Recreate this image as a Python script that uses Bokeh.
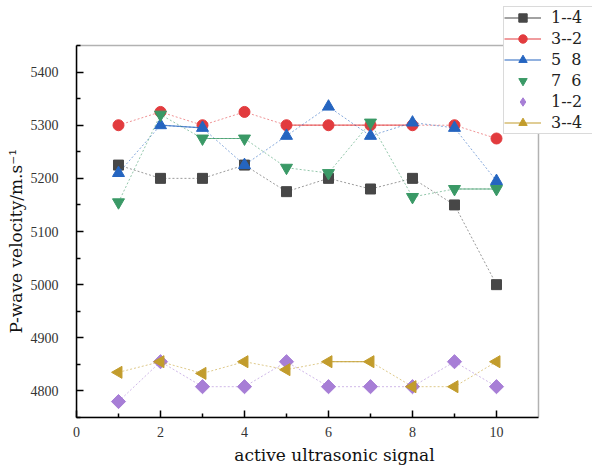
import math
from bokeh.plotting import figure
from bokeh.models import FixedTicker, Legend, LegendItem, ColumnDataSource, Range1d, BoxAnnotation, Title
from bokeh.embed import file_html
from bokeh.resources import INLINE

# ---- data ----
signal = [1, 2, 3, 4, 5, 6, 7, 8, 9, 10]
v_1_4 = [5225, 5200, 5200, 5225, 5175, 5200, 5180, 5200, 5150, 5000]
v_3_2 = [5300, 5325, 5300, 5325, 5300, 5300, 5300, 5300, 5300, 5275]
v_5_8 = [5210, 5300, 5295, 5225, 5280, 5335, 5280, 5305, 5295, 5195]
v_7_6 = [5155, 5320, 5275, 5275, 5220, 5210, 5305, 5165, 5180, 5180]
v_1_2 = [4780, 4855, 4808, 4808, 4855, 4808, 4808, 4808, 4855, 4808]
v_3_4 = [4835, 4855, 4833, 4855, 4840, 4855, 4855, 4808, 4808, 4855]
series_labels = ["1--4", "3--2", "5  8", "7  6", "1--2", "3--4"]
x_ticks = [0, 2, 4, 6, 8, 10]
x_minor = [1, 3, 5, 7, 9]
y_ticks = [4800, 4900, 5000, 5100, 5200, 5300, 5400]
y_minor = [4750, 4850, 4950, 5050, 5150, 5250, 5350, 5450]
x_lim = (0, 11)
y_lim = (4750, 5450)

# ---- styles ----
styles = [
    dict(marker="square", color="#474747", size=10, angle=0.0, solid=[], legend_line=True, legend_marker=None),
    dict(marker="circle", color="#e23b3e", size=11, angle=0.0, solid=[4, 5, 6], legend_line=True, legend_marker=None),
    dict(marker="triangle", color="#2565c0", size=12, angle=0.0, solid=[1], legend_line=True, legend_marker=None),
    dict(marker="inverted_triangle", color="#3a9966", size=12, angle=0.0, solid=[2, 8], legend_line=False, legend_marker=None),
    dict(marker="square", color="#a77ed6", size=10, angle=math.pi / 4, solid=[], legend_line=False, legend_marker="diamond"),
    dict(marker="triangle", color="#c29c2c", size=12, angle=math.pi / 2, solid=[5], legend_line=True, legend_marker=None),
]
values = [v_1_4, v_3_2, v_5_8, v_7_6, v_1_2, v_3_4]

FONT = "DejaVu Serif"
TICKFONT = "Liberation Serif"

# frame spans to the top/right edges so the legend can sit over the corner;
# the visible box is drawn at the axis limits
p = figure(width=592, height=467, output_backend="svg", toolbar_location=None,
           x_range=Range1d(0, 12.286), y_range=Range1d(4750, 5534.7),
           min_border_left=76, min_border_right=0, min_border_top=0, min_border_bottom=50)
p.background_fill_color = "white"
p.border_fill_color = "white"
p.outline_line_color = None
p.xgrid.visible = False
p.ygrid.visible = False

for ax in (p.xaxis[0], p.yaxis[0]):
    ax.axis_line_width = 1.5
    ax.major_tick_in = 7
    ax.major_tick_out = 0
    ax.minor_tick_in = 4
    ax.minor_tick_out = 0
    ax.major_tick_line_width = 1.5
    ax.minor_tick_line_width = 1.5
    ax.major_label_text_font = TICKFONT
    ax.major_label_text_font_size = "14px"
    ax.major_label_text_color = "#333333"
    ax.axis_label_text_font = FONT
    ax.axis_label_text_font_size = "17px"
    ax.axis_label_text_font_style = "normal"
    ax.axis_label_text_color = "#111111"

p.xaxis.bounds = x_lim
p.yaxis.bounds = y_lim
p.xaxis.ticker = FixedTicker(ticks=x_ticks, minor_ticks=x_minor)
p.yaxis.ticker = FixedTicker(ticks=y_ticks, minor_ticks=y_minor)
p.xaxis.axis_label = "active ultrasonic signal"
p.xaxis.major_label_standoff = 9
p.yaxis.major_label_standoff = 18
p.xaxis.axis_label_standoff = 5

# y-axis title as a side title so it can be centred on the visible box
ytitle = Title(text="P-wave velocity/m.s\u207b\u00b9", align="left", offset=84,
               text_font=FONT, text_font_size="17px", text_font_style="normal",
               text_color="#111111", standoff=4)
p.add_layout(ytitle, "left")

p.add_layout(BoxAnnotation(left=x_lim[0], right=x_lim[1], bottom=y_lim[0], top=y_lim[1],
                           fill_alpha=0, line_color="black", line_width=1.5, level="underlay"))

items = []
for vals, st, lab in zip(values, styles, series_labels):
    src = ColumnDataSource(dict(x=signal, y=vals))
    p.line("x", "y", source=src, line_color=st["color"], line_alpha=0.55,
           line_width=1, line_dash="2 2")
    if st["solid"]:
        seg = ColumnDataSource(dict(
            x0=[signal[i] for i in st["solid"]], y0=[vals[i] for i in st["solid"]],
            x1=[signal[i + 1] for i in st["solid"]], y1=[vals[i + 1] for i in st["solid"]]))
        p.segment("x0", "y0", "x1", "y1", source=seg, line_color=st["color"],
                  line_alpha=0.75, line_width=1.2)
    rs = []
    if st["legend_line"]:
        # single-point line: invisible on the plot, gives the legend its line
        ln = p.line(x=signal[:1], y=vals[:1], line_color=st["color"], line_width=1.2)
        rs.append(ln)
    if st["legend_marker"] is not None:
        # legend-shape marker hidden underneath the plotted markers
        lm = p.scatter("x", "y", source=src, marker=st["legend_marker"], size=st["size"],
                       fill_color=st["color"], line_color=st["color"])
        rs.append(lm)
    sc = p.scatter("x", "y", source=src, marker=st["marker"], size=st["size"],
                   angle=st["angle"], fill_color=st["color"], line_color=st["color"])
    if st["legend_marker"] is None:
        rs.append(sc)
    items.append(LegendItem(label=lab, renderers=rs))

legend = Legend(items=items, location=(427, 283), orientation="vertical",
                padding=0, spacing=0, margin=0, glyph_height=21, glyph_width=37,
                label_height=21, label_width=80, label_standoff=10,
                label_text_font=FONT, label_text_font_size="16px",
                label_text_color="#222222",
                border_line_color="#b5b5b5", border_line_width=1,
                background_fill_color="white", background_fill_alpha=1.0)
p.add_layout(legend, "center")

open("out.html", "w").write(file_html(p, INLINE))
